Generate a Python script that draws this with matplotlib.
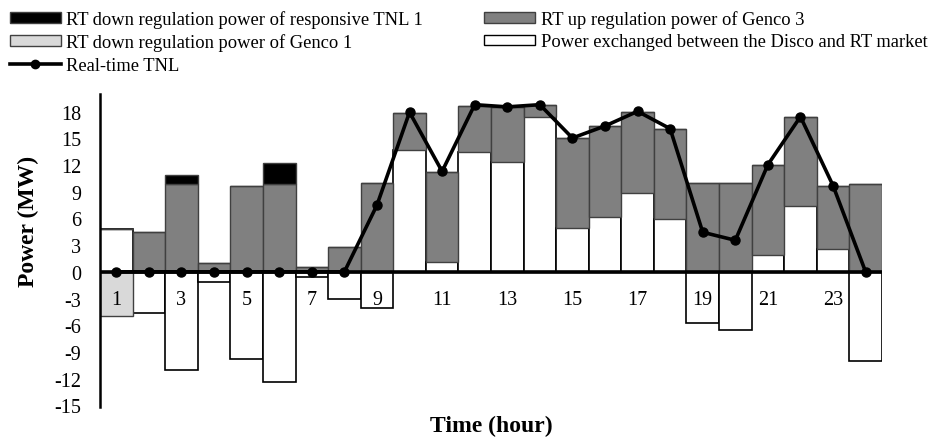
import matplotlib.pyplot as plt
import numpy as np
from matplotlib.patches import Patch
from matplotlib.lines import Line2D

plt.rcParams['font.family'] = ['Liberation Serif', 'DejaVu Serif']
plt.rcParams['axes.unicode_minus'] = False

hours = np.arange(1, 25)

# Power exchanged between the Disco and the RT market (MW)
exchange = [4.8, -4.6, -11.0, -1.1, -9.85, -12.4, -0.6, -3.1, -4.1, 13.7, 1.1, 13.5,
            12.4, 17.4, 4.9, 6.2, 8.9, 5.9, -5.7, -6.5, 1.9, 7.4, 2.6, -10.0]
# RT up regulation of Genco 3 (MW)
genco3_up = [0.0, 4.45, 9.9, 0.95, 9.6, 9.9, 0.55, 2.85, 9.95, 4.15, 10.1, 5.2,
             6.1, 1.4, 10.15, 10.15, 9.1, 10.2, 9.95, 9.95, 10.15, 10.0, 7.0, 9.85]
# RT down regulation of responsive TNL 1 (MW)
tnl1_down = [0, 0, 0.95, 0, 0, 2.3, 0, 0, 0, 0, 0, 0,
             0, 0, 0, 0, 0, 0, 0, 0, 0, 0, 0, 0]
# RT down regulation of Genco 1 (MW)
genco1_down = [-5.0, 0, 0, 0, 0, 0, 0, 0, 0, 0, 0, 0,
               0, 0, 0, 0, 0, 0, 0, 0, 0, 0, 0, 0]
# Real-time TNL (MW)
rt_tnl = [0, 0, 0, 0, 0, 0, 0, 0, 7.5, 17.95, 11.3, 18.8,
          18.55, 18.8, 15.05, 16.4, 18.05, 16.1, 4.45, 3.55, 12.05, 17.45, 9.7, 0]

exchange = np.array(exchange)
genco3_up = np.array(genco3_up)
tnl1_down = np.array(tnl1_down)

fig = plt.figure(figsize=(9.42, 4.39), dpi=100)
ax = fig.add_axes([0.1062, 0.0706, 0.830, 0.713])

# positive exchange sits under the up-regulation stack
base = np.where(exchange > 0, exchange, 0)

ax.bar(hours, exchange, width=1.0, color='white', edgecolor='black', linewidth=1.2, zorder=2)
ax.bar(hours, genco1_down, width=1.0, color='#d9d9d9', edgecolor='#404040', linewidth=1.0, zorder=2)
ax.bar(hours, genco3_up, width=1.0, bottom=base, color='#808080', edgecolor='#404040',
       linewidth=1.0, zorder=2)
ax.bar(hours, tnl1_down, width=1.0, bottom=base + genco3_up, color='black',
       edgecolor='#404040', linewidth=1.0, zorder=2)

ax.axhline(0, color='black', linewidth=2.6, zorder=3)
ax.plot(hours, rt_tnl, color='black', linewidth=2.6, marker='o', markersize=6.5, zorder=4)

# hour labels sit just under the zero line
for h in hours[::2]:
    ax.annotate(str(h), (h, 0), xytext=(0, -13), textcoords='offset points',
                ha='center', va='top', fontsize=14.5, zorder=5)

ax.set_xlim(0.5, 24.5)
ax.set_ylim(-15.2, 20)
ax.set_yticks(np.arange(-15, 19, 3))
ax.tick_params(axis='y', length=0, labelsize=14.5, pad=13.5)
ax.set_xticks([])
for s in ['top', 'right', 'bottom']:
    ax.spines[s].set_visible(False)
ax.spines['left'].set_linewidth(1.8)

fig.text(28 / 942, 0.495, 'Power (MW)', rotation=90, ha='center', va='center',
         fontsize=17, fontweight='bold')
fig.text(491 / 942, 0.028, 'Time (hour)', ha='center', va='center', fontsize=17, fontweight='bold')

handles = [
    Patch(facecolor='black', edgecolor='#404040', label='RT down regulation power of responsive TNL 1'),
    Patch(facecolor='#d9d9d9', edgecolor='#404040', label='RT down regulation power of Genco 1'),
    Line2D([], [], color='black', linewidth=2.6, marker='o', markersize=6, label='Real-time TNL'),
    Patch(facecolor='#808080', edgecolor='#404040', label='RT up regulation power of Genco 3'),
    Patch(facecolor='white', edgecolor='black', label='Power exchanged between the Disco and RT market'),
]
fig.legend(handles=handles, ncol=2, loc='upper left', bbox_to_anchor=(10 / 942, 0.975),
           frameon=False, fontsize=13.3, handlelength=2.75, handleheight=0.5,
           handletextpad=0.3, columnspacing=3.3, labelspacing=0.3,
           borderpad=0, borderaxespad=0)

fig.savefig('out.png', dpi=100)
